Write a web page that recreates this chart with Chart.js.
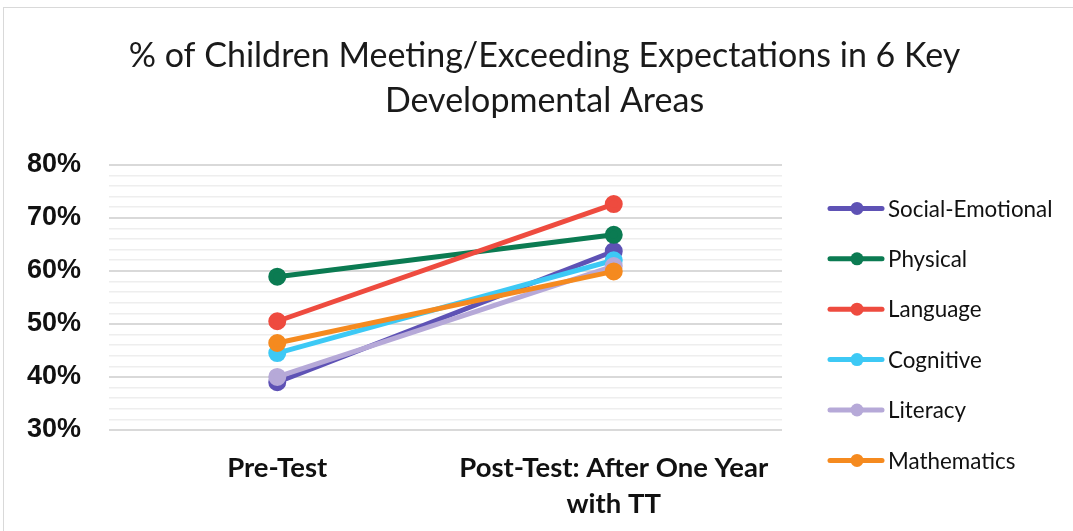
<!DOCTYPE html>
<html>
<head>
<meta charset="utf-8">
<script src="https://cdn.jsdelivr.net/npm/chart.js@4.4.1/dist/chart.umd.min.js"></script>
<style>
  html, body { margin: 0; padding: 0; background: #fff; overflow: hidden; }
  #frame { position: absolute; left: 3px; top: 7px; width: 1080px; height: 540px; border: 1px solid #d9d9d9; box-sizing: border-box; }
  #wrap { position: absolute; left: 4px; top: 8px; width: 1069px; height: 523px; }
</style>
</head>
<body>
<div id="frame"></div>
<div id="wrap"><canvas id="c"></canvas></div>
<script>
const categories = ['Pre-Test', ['Post-Test: After One Year', 'with TT']];
const seriesNames = ['Social-Emotional', 'Physical', 'Language', 'Cognitive', 'Literacy', 'Mathematics'];
const socialEmotional = [39.0, 63.7];
const physical = [58.9, 66.8];
const language = [50.5, 72.6];
const cognitive = [44.5, 62.0];
const literacy = [40.0, 60.9];
const mathematics = [46.4, 59.9];
const seriesColors = ['#5E52B5', '#0B7B52', '#EE4B3F', '#3DC9F5', '#B6A9D8', '#F58A1F'];
const yTickLabels = ['30%', '40%', '50%', '60%', '70%', '80%'];
const titleLines = ['% of Children Meeting/Exceeding Expectations in 6 Key', 'Developmental Areas'];

const seriesValues = [socialEmotional, physical, language, cognitive, literacy, mathematics];

const datasets = seriesNames.map((name, i) => ({
  label: name,
  data: seriesValues[i],
  borderColor: seriesColors[i],
  backgroundColor: seriesColors[i],
  pointBackgroundColor: seriesColors[i],
  pointBorderColor: seriesColors[i],
  borderWidth: 5,
  pointRadius: 6.5,
  pointHoverRadius: 6.5,
  tension: 0,
  yAxisID: 'y',
  order: seriesNames.length - i
}));

const customLegend = {
  id: 'customLegend',
  afterDraw(chart) {
    const ctx = chart.ctx;
    const a = chart.chartArea;
    const n = chart.data.datasets.length;
    const spacing = 50.4;
    const cy = (a.top + a.bottom) / 2 + 37;
    const x0 = a.right + 48;
    ctx.save();
    chart.data.datasets.forEach((ds, i) => {
      const y = cy + (i - (n - 1) / 2) * spacing;
      ctx.strokeStyle = ds.borderColor;
      ctx.lineWidth = 5;
      ctx.lineCap = 'round';
      ctx.beginPath();
      ctx.moveTo(x0, y);
      ctx.lineTo(x0 + 52, y);
      ctx.stroke();
      ctx.fillStyle = ds.borderColor;
      ctx.beginPath();
      ctx.arc(x0 + 27, y, 6.5, 0, Math.PI * 2);
      ctx.fill();
      ctx.fillStyle = '#111';
      ctx.font = '22.4px Lato';
      ctx.textBaseline = 'middle';
      ctx.textAlign = 'left';
      ctx.fillText(ds.label, x0 + 58, y + 1);
    });
    ctx.restore();
  }
};

new Chart(document.getElementById('c'), {
  type: 'line',
  data: { labels: categories, datasets },
  plugins: [customLegend],
  options: {
    responsive: true,
    maintainAspectRatio: false,
    animation: false,
    layout: { padding: { left: 12, right: 0, top: 0, bottom: 0 } },
    plugins: {
      legend: { display: false },
      tooltip: { enabled: false },
      title: {
        display: true,
        text: titleLines,
        color: '#1a1a1a',
        font: { family: 'Lato', size: 34, weight: 'normal', lineHeight: 1.32 },
        padding: { top: 26, bottom: 41 }
      }
    },
    scales: {
      x: {
        offset: true,
        grid: { display: false },
        border: { display: false },
        afterFit: (s) => { s.height = 101; },
        ticks: {
          color: '#111',
          font: { family: 'Lato', size: 27.5, weight: 'bold', lineHeight: 1.3 },
          padding: 12,
          maxRotation: 0,
          autoSkip: false
        }
      },
      y: {
        min: 30,
        max: 80,
        border: { display: false },
        afterFit: (s) => { s.width = 93; },
        grid: {
          drawTicks: false,
          color: (c) => (c.tick && c.tick.value % 10 === 0) ? '#d9d9d9' : '#eeeeee',
          lineWidth: (c) => (c.tick && c.tick.value % 10 === 0) ? 2 : 1.5
        },
        ticks: {
          stepSize: 2,
          autoSkip: false,
          padding: 28,
          color: '#111',
          font: { family: 'Liberation Sans', size: 27, weight: 'bold' },
          callback: (v) => {
            if (v % 10 !== 0) return '';
            return yTickLabels[(v - 30) / 10];
          }
        }
      },
      legendSpace: {
        type: 'linear',
        position: 'right',
        display: true,
        grid: { display: false, drawTicks: false },
        border: { display: false },
        ticks: { display: false },
        afterFit: (s) => { s.width = 291; }
      }
    }
  }
});
</script>
</body>
</html>
